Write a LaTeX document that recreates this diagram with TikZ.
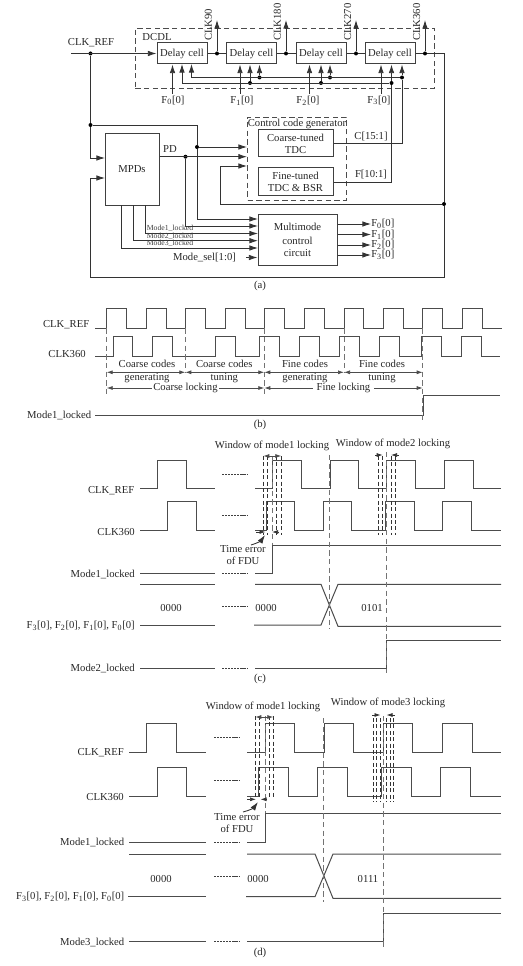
\documentclass[tikz,border=0pt]{standalone}
\usepackage{fontspec}
\setmainfont{Liberation Serif}
\usetikzlibrary{arrows.meta}
\newcommand{\fcode}[1]{F\textsubscript{#1}[0]}
\newcommand{\clkwave}[5]{\draw[wave] (#1,#3) foreach \up/\dn in {#4} { -- (\up,#3) -- (\up,#2) -- (\dn,#2) -- (\dn,#3) } -- (#5,#3);}

\begin{document}
\begin{tikzpicture}[
  x=0.75pt,y=-0.75pt,
  lbl/.style={font=\fontsize{8}{9}\selectfont, text=black!85, inner sep=0pt, align=center},
  tinylbl/.style={font=\fontsize{5.8}{6}\selectfont, text=black!75, inner sep=0pt},
  block/.style={draw=black!75, line width=0.75pt, lbl},
  cell/.style={block, minimum width=37.5pt, minimum height=15.75pt},
  dashbox/.style={draw=black!70, line width=0.7pt, dash pattern=on 4pt off 2.5pt, inner sep=0pt},
  wire/.style={draw=black!80, line width=0.65pt},
  sig/.style={wire, -{Latex[length=6.5pt,width=4.2pt]}},
  dot/.style={circle, fill=black, inner sep=0pt, minimum size=3pt},
  wave/.style={draw=black!70, line width=0.75pt},
  guide/.style={draw=black!55, line width=0.7pt, dash pattern=on 4pt off 2.5pt},
  win/.style={draw=black!80, line width=0.6pt, dash pattern=on 3pt off 1.8pt},
  gapline/.style={draw=black!75, line width=0.6pt, dash pattern=on 1.6pt off 0.7pt},
  span/.style={draw=black!70, line width=0.55pt, {Latex[length=4.5pt,width=3pt]}-{Latex[length=4.5pt,width=3pt]}},
  tick/.style={draw=black!80, line width=0.55pt, -{Latex[length=4.5pt,width=3pt]}}
]
\useasboundingbox (0,0) rectangle (523,966);

% (a): delay line
\node[dashbox, minimum width=223.9pt, minimum height=45pt] (dcdl) at (284.75,58) {};
\node[lbl] (dcdllab) at (157,37) {DCDL};
\node[cell] (cell0) at (182,53.5) {Delay cell};
\node[cell] (cell1) at (251.5,53.5) {Delay cell};
\node[cell] (cell2) at (321,53.5) {Delay cell};
\node[cell] (cell3) at (390,53.5) {Delay cell};
\node[lbl] (clkreflab) at (91,43) {CLK\_REF};
\node[dot] (jclk) at (90.5,53.5) {};
\coordinate (clkin) at (71,53.5);
\draw[sig] (clkin) -- (cell0.west);
\draw[wire] (cell0) -- (cell1);
\draw[wire] (cell1) -- (cell2);
\draw[wire] (cell2) -- (cell3);
\foreach \jx/\ph/\n in {217/90/0, 286/180/1, 356/270/2, 425/360/3} {
  \node[dot] (jp\n) at (\jx,53.5) {};
  \coordinate (op\n) at (\jx,20);
  \draw[sig] (jp\n) -- (op\n);
  \node[lbl, rotate=90, anchor=west] (clkp\n) at ({\jx-8.5},41) {CLK\ph};
}

% control inputs of the cells
\foreach \n/\fx/\lx in {0/172.5/173, 1/240/242, 2/309.5/308, 3/381/379} {
  \node[lbl] (flab\n) at (\lx,100.5) {\fcode{\n}};
  \coordinate (fs\n) at (\fx,94);
  \draw[sig] (fs\n) -- (fs\n |- cell\n.south);
}
\node[dot] (jb1) at (250,83) {};
\node[dot] (jb2) at (321,83) {};
\node[dot] (jb3) at (391.5,83) {};
\node[dot] (jc1) at (259.5,77.5) {};
\node[dot] (jc2) at (330,77.5) {};
\node[dot] (jc3) at (402,77.5) {};
\coordinate (tb0) at (182,64);
\coordinate (tc0) at (191.5,64);
\draw[sig] (jb3) -| (tb0);
\draw[sig] (jc3) -| (tc0);
\foreach \n in {1,2,3} {
  \draw[sig] (jb\n) -- (jb\n |- cell\n.south);
  \draw[sig] (jc\n) -- (jc\n |- cell\n.south);
}

% (a): control code generator
\node[dashbox, minimum width=74.25pt, minimum height=62.25pt] (ctrl) at (297,158.5) {};
\node[lbl] (ctrllab) at (297,124) {Control code generator};
\node[block, minimum width=56.25pt, minimum height=20.25pt] (coarse) at (295.5,143.5) {Coarse-tuned\\TDC};
\node[block, minimum width=56.25pt, minimum height=21pt] (fine) at (295.5,182) {Fine-tuned\\TDC \& BSR};
\node[lbl] (clab) at (371,137) {C[15:1]};
\node[lbl] (flab) at (371,175) {F[10:1]};
\draw[wire] (coarse.east) -| (jc3);
\draw[wire] (fine.east) -| (jb3);

% (a): phase detectors and mode control
\node[block, minimum width=40.5pt, minimum height=54pt] (mpds) at (132,169.5) {MPDs};
\node[lbl] (pdlab) at (170,149) {PD};
\node[block, minimum width=59.25pt, minimum height=38.25pt] (mmc) at (297.5,240) {Multimode\\[1pt]control\\circuit};
\node[dot] (jlow) at (90.5,125) {};
\node[dot] (jref) at (197,147) {};
\node[dot] (jpd) at (185.5,156.7) {};
\node[dot] (jfb) at (444,204) {};
\coordinate (min1) at (105,158);
\coordinate (min2) at (105,178);
\coordinate (fbl) at (90.5,277);
\coordinate (fbu) at (220,166);
\coordinate (mm1) at (258,219);
\coordinate (mm2) at (258,226);
\coordinate (mm3) at (258,233.5);
\coordinate (mm4) at (258,240.7);
\coordinate (mm5) at (258,248);
\coordinate (ml1) at (145.5,205.5);
\coordinate (ml2) at (133.5,205.5);
\coordinate (ml3) at (121.5,205.5);
\draw[wire] (jclk) -- (jlow);
\draw[sig] (jlow) |- (min1);
\draw[wire] (jlow) -| (jref);
\draw[sig] (jref) -- (ctrl.west |- jref);
\draw[sig] (jref) |- (mm1);
\draw[sig] (mpds.east |- jpd) -- (ctrl.west |- jpd);
\draw[sig] (jpd) |- (mm2);
\draw[wire] (cell3) -- (jp3);
\draw[wire] (jp3) -| (jfb);
\draw[sig] (jfb) |- (fbl) |- (min2);
\draw[sig] (jfb) -| (fbu) -- (ctrl.west |- fbu);
\draw[sig] (ml1) |- (mm3);
\draw[sig] (ml2) |- (mm4);
\draw[sig] (ml3) |- (mm5);
\node[tinylbl] (ml1lab) at (170,228.5) {Mode1\_locked};
\node[tinylbl] (ml2lab) at (170,236.5) {Mode2\_locked};
\node[tinylbl] (ml3lab) at (170,243.5) {Mode3\_locked};
\node[lbl] (modesel) at (204.5,257.5) {Mode\_sel[1:0]};
\draw[sig] ([xshift=7.5pt]modesel.east) -- (mmc.west |- modesel);
\foreach \n/\oy in {0/224, 1/234.5, 2/245, 3/255} {
  \node[lbl, anchor=west] (fout\n) at (371,\oy) {\fcode{\n}};
  \draw[sig] (mmc.east |- fout\n) -- (fout\n.west);
}
\node[lbl] (capa) at (260,286) {(a)};

% (b): coarse and fine locking
\node[lbl, anchor=east] (brefl) at (89.5,325) {CLK\_REF};
\node[lbl, anchor=east] (bclkl) at (86,354) {CLK360};
\node[lbl, anchor=east] (bmodl) at (91.5,415) {Mode1\_locked};
\clkwave{95}{308.7}{328.3}{106.7/126.7, 146.7/166.7, 185.3/205.3, 225.3/245.3, 264.3/284.3, 304.3/324.3, 344/363.7, 383.3/403.3, 422.7/442.7, 462.7/482.7}{502}
\clkwave{95}{336.7}{356.3}{113/132.7, 152.3/172.7, 215.7/235.7, 259.3/279.3, 299/319, 339/359, 379.3/399.3, 421/441.7, 461.7/481.7}{500}
\draw[wave] (95,415) -- (423,415) -- (423,395) -- (500,395);
\foreach \x/\y in {106.7/397, 185.3/373, 264.3/397, 344/373, 422.7/422}
  \draw[guide] (\x,328.3) -- (\x,\y);
\foreach \n/\xa/\xb in {0/106.7/185.3, 1/185.3/264.3, 2/264.3/344, 3/344/422.7} {
  \coordinate (sa\n) at (\xa,372.3);
  \coordinate (sb\n) at (\xb,372.3);
  \draw[span] (sa\n) -- (sb\n);
}
\node[lbl] (bt1) at (147,364.3) {Coarse codes};
\node[lbl] (bt2) at (147,377.7) {generating};
\node[lbl] (bt3) at (224.3,364.3) {Coarse codes};
\node[lbl] (bt4) at (224.3,377.7) {tuning};
\node[lbl] (bt5) at (305,364.3) {Fine codes};
\node[lbl] (bt6) at (305,377.7) {generating};
\node[lbl] (bt7) at (382,364.3) {Fine codes};
\node[lbl] (bt8) at (382,377.7) {tuning};
\coordinate (la0) at (106.7,388);
\coordinate (la1) at (264.3,388);
\coordinate (la2) at (422.7,388);
\draw[span] (la0) -- node[lbl, fill=white, inner xsep=1pt] (coarselock) {Coarse locking} (la1);
\draw[span] (la1) -- node[lbl, fill=white, inner xsep=3pt] (finelock) {Fine locking} (la2);
\node[lbl] (capb) at (260,425) {(b)};

% (c): mode 2
\node[lbl] (cw1) at (272,446) {Window of mode1 locking};
\node[lbl] (cw2) at (393,444) {Window of mode2 locking};
\node[lbl, anchor=east] (crefl) at (134.5,491) {CLK\_REF};
\node[lbl, anchor=east] (cclkl) at (135,531.7) {CLK360};
\node[lbl, anchor=east] (cm1l) at (135,574.3) {Mode1\_locked};
\node[lbl, anchor=east] (cfl) at (135,625.7) {\fcode{3}, \fcode{2}, \fcode{1}, \fcode{0}};
\node[lbl, anchor=east] (cm2l) at (135,668) {Mode2\_locked};
\clkwave{140}{460.3}{488.3}{157.5/186.5}{215}
\clkwave{255}{460.3}{488.3}{272/301, 330/358, 386.7/415.7, 444.3/473}{501}
\clkwave{140}{501.7}{530}{167.5/196.5}{215}
\clkwave{255}{501.7}{530}{266.7/294.7, 323/351.7, 385.3/414, 442.3/471.3}{501}
\foreach \y in {474.5, 515.5, 573.3, 606, 668}
  \draw[gapline] (222,\y) -- (247,\y);
\draw[wave] (140,573.3) -- (215,573.3);
\draw[wave] (255,573.3) -- (272,573.3) -- (272,545) -- (501,545);
\draw[wave] (140,584.3) -- (215,584.3);
\draw[wave] (140,625) -- (215,625);
\draw[wave] (255,584.3) -- (321,584.3) -- (338,626.3) -- (501,626.3);
\draw[wave] (254,625) -- (321,625) -- (338,584.3) -- (501,584.3);
\draw[wave] (140,668) -- (215,668);
\draw[wave] (255,668) -- (386.7,668) -- (386.7,640) -- (501,640);
\node[lbl] (c0a) at (171,608) {0000};
\node[lbl] (c0b) at (266,608) {0000};
\node[lbl] (c0c) at (372,608) {0101};
\foreach \x in {263.3, 267.3, 276.7, 281.3, 378.3, 382.7, 391, 395.7}
  \draw[win] (\x,456) -- (\x,535);
\draw[guide] (272,456) -- (272,545);
\draw[guide] (329.3,455) -- (329.3,629);
\draw[guide] (386.7,452) -- (386.7,673);
\coordinate (cwa) at (263.3,456);
\coordinate (cwb) at (281.3,456);
\draw[span] (cwa) -- (cwb);
\coordinate (cxa) at (375,455);
\coordinate (cxb) at (382.7,455);
\coordinate (cxc) at (398.5,455);
\coordinate (cxd) at (391,455);
\draw[tick] (cxa) -- (cxb);
\draw[tick] (cxc) -- (cxd);
\coordinate (cea) at (256,532);
\coordinate (ceb) at (265.5,532);
\coordinate (cec) at (278,532);
\coordinate (ced) at (272,532);
\draw[tick] (cea) -- (ceb);
\draw[tick] (cec) -- (ced);
\node[lbl] (cterr) at (243,555) {Time error\\of FDU};
\coordinate (cta) at (251,545);
\coordinate (ctb) at (265,535);
\draw[sig] (cta) to[bend right=20] (ctb);
\node[lbl] (capc) at (260,679) {(c)};

% (d): mode 3
\node[lbl] (dw1) at (263,706.7) {Window of mode1 locking};
\node[lbl] (dw2) at (388,703) {Window of mode3 locking};
\node[lbl, anchor=east] (drefl) at (124,752.7) {CLK\_REF};
\node[lbl, anchor=east] (dclkl) at (124,797.3) {CLK360};
\node[lbl, anchor=east] (dm1l) at (124.5,842.7) {Mode1\_locked};
\node[lbl, anchor=east] (dfl) at (124.5,896.7) {\fcode{3}, \fcode{2}, \fcode{1}, \fcode{0}};
\node[lbl, anchor=east] (dm3l) at (124.5,942) {Mode3\_locked};
\clkwave{129}{723.3}{752.7}{146.5/176.3}{206}
\clkwave{247}{723.3}{752.7}{265/294.3, 324/353.7, 383.3/412.7, 442.3/472}{501}
\clkwave{129}{767.3}{796.7}{157.3/186.7}{206}
\clkwave{247}{767.3}{796.7}{258.7/288, 317.7/347.3, 381.7/411, 440.7/470.3}{501}
\foreach \y in {737.7, 780.7, 842.7, 876.7, 941.7}
  \draw[gapline] (214,\y) -- (239,\y);
\draw[wave] (129,842.7) -- (206,842.7);
\draw[wave] (247,842.7) -- (265,842.7) -- (265,813.3) -- (501,813.3);
\draw[wave] (129,854) -- (206,854);
\draw[wave] (128,896.7) -- (206,896.7);
\draw[wave] (247,854) -- (315,854) -- (333,898.3) -- (501,898.3);
\draw[wave] (246,896.7) -- (315,896.7) -- (333,854) -- (501,854);
\draw[wave] (129,941.7) -- (206,941.7);
\draw[wave] (247,941.7) -- (383.3,941.7) -- (383.3,913.3) -- (501,913.3);
\node[lbl] (d0a) at (161,879) {0000};
\node[lbl] (d0b) at (258,879) {0000};
\node[lbl] (d0c) at (368,879) {0111};
\foreach \x in {255.3, 259.3, 269.3, 273.3}
  \draw[win] (\x,716) -- (\x,797);
\foreach \x in {373.3, 376.7, 380, 386.7, 390, 393.3}
  \draw[win] (\x,718) -- (\x,801.5);
\draw[guide] (265,716) -- (265,813);
\draw[guide] (323.7,718) -- (323.7,902);
\draw[guide] (383.3,716) -- (383.3,947);
\coordinate (dwa) at (255.3,717);
\coordinate (dwb) at (273.3,717);
\draw[span] (dwa) -- (dwb);
\coordinate (dxa) at (372,715);
\coordinate (dxb) at (380.5,715);
\coordinate (dxc) at (394.5,715);
\coordinate (dxd) at (386.5,715);
\draw[tick] (dxa) -- (dxb);
\draw[tick] (dxc) -- (dxd);
\coordinate (dea) at (247,799.3);
\coordinate (deb) at (256,799.3);
\coordinate (dec) at (267,799.3);
\coordinate (ded) at (260.5,799.3);
\draw[tick] (dea) -- (deb);
\draw[tick] (dec) -- (ded);
\node[lbl] (dterr) at (237,823) {Time error\\of FDU};
\coordinate (dta) at (243,812);
\coordinate (dtb) at (258,802);
\draw[sig] (dta) to[bend right=20] (dtb);
\node[lbl] (capd) at (260,952.7) {(d)};

\end{tikzpicture}
\end{document}
